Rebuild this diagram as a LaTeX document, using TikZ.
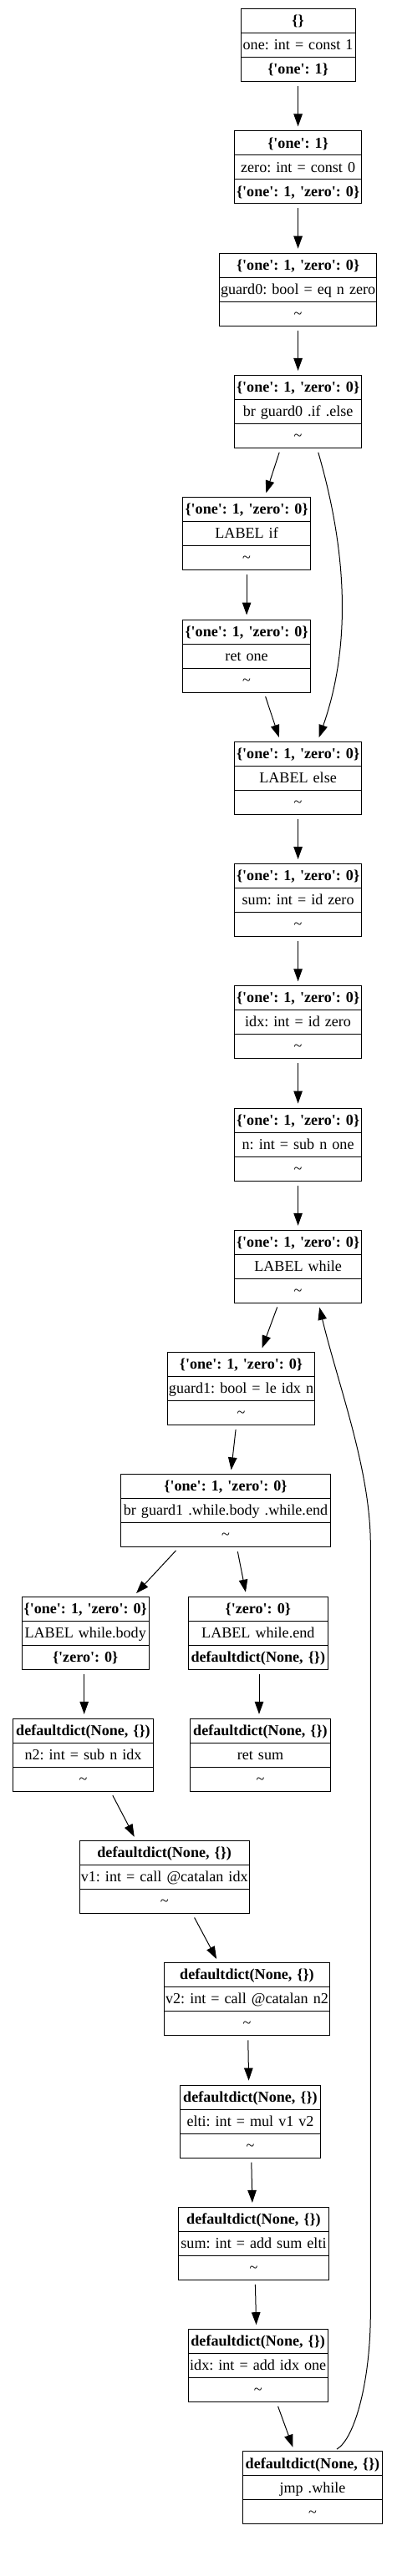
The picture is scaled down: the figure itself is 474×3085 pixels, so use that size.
\documentclass[tikz,border=0pt]{standalone}
\usepackage{fontspec}
\setmainfont{Liberation Serif}
\usetikzlibrary{shapes.multipart, positioning, arrows.meta}
\tikzset{node distance=59.26pt,
  block/.style={rectangle split, rectangle split parts=3, draw, line width=1pt, inner xsep=0pt, inner ysep=0pt, outer sep=0pt, align=center, font=\fontsize{18.1}{22}\selectfont\frenchspacing},
  flow/.style={-{Triangle[length=15pt,width=10.5pt]}, line width=1pt, shorten >=5.5pt, shorten <=5.5pt}}

\newcommand{\sq}{\textquotesingle}
\newcommand{\hrow}[1]{\mbox{\rule[-8.4pt]{0pt}{28pt}\textbf{#1}}}
\newcommand{\irow}[1]{\mbox{\rule[-8.4pt]{0pt}{28pt}#1}}
\newcommand{\dzero}{\{\sq one\sq: 1, \sq zero\sq: 0\}}
\newcommand{\ddict}{defaultdict(None, \{\})}
\newcommand{\nochg}{\irow{\textasciitilde}}

\begin{document}
\begin{tikzpicture}[x=1pt, y=-1pt]
        \useasboundingbox (0,0) rectangle (474,3085);

        % entry and the if/else branch
        \node[block, text width=137pt, anchor=north] (n0) at (356.6,10.7) {\hrow{\{\}} \nodepart{two} \irow{one: int = const 1} \nodepart{three} \hrow{\{\sq one\sq: 1\}}};
        \node[block, text width=152pt, below=of n0] (n1) {\hrow{\{\sq one\sq: 1\}} \nodepart{two} \irow{zero: int = const 0} \nodepart{three} \hrow{\dzero}};
        \node[block, text width=188.3pt, below=of n1] (n2) {\hrow{\dzero} \nodepart{two} \irow{guard0: bool = eq n zero} \nodepart{three} \nochg};
        \node[block, text width=152pt, below=of n2] (n3) {\hrow{\dzero} \nodepart{two} \irow{br guard0 .if .else} \nodepart{three} \nochg};
        \node[block, text width=152.3pt, below=of n3, xshift=-61.5pt] (n4) {\hrow{\dzero} \nodepart{two} \irow{LABEL if} \nodepart{three} \nochg};
        \node[block, text width=152.3pt, below=of n4] (n5) {\hrow{\dzero} \nodepart{two} \irow{ret one} \nodepart{three} \nochg};
        \node[block, text width=152pt, below=of n5, xshift=61.5pt] (n6) {\hrow{\dzero} \nodepart{two} \irow{LABEL else} \nodepart{three} \nochg};
        \node[block, text width=152pt, below=of n6] (n7) {\hrow{\dzero} \nodepart{two} \irow{sum: int = id zero} \nodepart{three} \nochg};
        \node[block, text width=152pt, below=of n7] (n8) {\hrow{\dzero} \nodepart{two} \irow{idx: int = id zero} \nodepart{three} \nochg};
        \node[block, text width=152pt, below=of n8] (n9) {\hrow{\dzero} \nodepart{two} \irow{n: int = sub n one} \nodepart{three} \nochg};

        % loop
        \node[block, text width=152pt, below=of n9] (n10) {\hrow{\dzero} \nodepart{two} \irow{LABEL while} \nodepart{three} \nochg};
        \node[block, text width=176.4pt, below=of n10, xshift=-68.1pt] (n11) {\hrow{\dzero} \nodepart{two} \irow{guard1: bool = le idx n} \nodepart{three} \nochg};
        \node[block, text width=250.6pt, below=of n11, xshift=-18.5pt] (n12) {\hrow{\dzero} \nodepart{two} \irow{br guard1 .while.body .while.end} \nodepart{three} \nochg};
        \node[block, text width=152.3pt, below=of n12, xshift=-167.8pt] (n13) {\hrow{\dzero} \nodepart{two} \irow{LABEL while.body} \nodepart{three} \hrow{\{\sq zero\sq: 0\}}};
        \node[block, text width=167pt, below=of n12, xshift=38.8pt] (n14) {\hrow{\{\sq zero\sq: 0\}} \nodepart{two} \irow{LABEL while.end} \nodepart{three} \hrow{\ddict}};
        \node[block, text width=167.6pt, below=of n13, xshift=-2.7pt] (n15) {\hrow{\ddict} \nodepart{two} \irow{n2: int = sub n idx} \nodepart{three} \nochg};
        \node[block, text width=167.6pt, below=of n14, xshift=2.7pt] (n16) {\hrow{\ddict} \nodepart{two} \irow{ret sum} \nodepart{three} \nochg};
        \node[block, text width=203.3pt, below=of n15, xshift=97.2pt] (n17) {\hrow{\ddict} \nodepart{two} \irow{v1: int = call @catalan idx} \nodepart{three} \nochg};
        \node[block, text width=198.4pt, below=of n17, xshift=98.8pt] (n18) {\hrow{\ddict} \nodepart{two} \irow{v2: int = call @catalan n2} \nodepart{three} \nochg};
        \node[block, text width=167.6pt, below=of n18, xshift=4pt] (n19) {\hrow{\ddict} \nodepart{two} \irow{elti: int = mul v1 v2} \nodepart{three} \nochg};
        \node[block, text width=179.6pt, below=of n19, xshift=4pt] (n20) {\hrow{\ddict} \nodepart{two} \irow{sum: int = add sum elti} \nodepart{three} \nochg};
        \node[block, text width=167.3pt, below=of n20, xshift=5.2pt] (n21) {\hrow{\ddict} \nodepart{two} \irow{idx: int = add idx one} \nodepart{three} \nochg};
        \node[block, text width=167.4pt, below=of n21, xshift=65.3pt] (n22) {\hrow{\ddict} \nodepart{two} \irow{jmp .while} \nodepart{three} \nochg};

        \draw[flow] (n0) -- (n1);
        \draw[flow] (n1) -- (n2);
        \draw[flow] (n2) -- (n3);
        \draw[flow] ([xshift=-20.7pt]n3.south) -- ([xshift=21.5pt]n4.north);
        \draw[flow] ([xshift=22.6pt]n3.south) .. controls (418,670) and (418,780) .. ([xshift=23.3pt]n6.north);
        \draw[flow] (n4) -- (n5);
        \draw[flow] ([xshift=20.8pt]n5.south) -- ([xshift=-21pt]n6.north);
        \draw[flow] (n6) -- (n7);
        \draw[flow] (n7) -- (n8);
        \draw[flow] (n8) -- (n9);
        \draw[flow] (n9) -- (n10);
        \draw[flow] ([xshift=-23pt]n10.south) -- ([xshift=23.2pt]n11.north);
        \draw[flow] ([xshift=-5.8pt]n11.south) -- ([xshift=6pt]n12.north);
        \draw[flow] ([xshift=-55.7pt]n12.south) -- ([xshift=57.1pt]n13.north);
        \draw[flow] ([xshift=13.3pt]n12.south) -- ([xshift=-13.8pt]n14.north);
        \draw[flow] ([xshift=-1.5pt]n13.south) -- ([xshift=1.2pt]n15.north);
        \draw[flow] ([xshift=1.2pt]n14.south) -- ([xshift=-1.5pt]n16.north);
        \draw[flow] ([xshift=32.8pt]n15.south) -- ([xshift=-33.4pt]n17.north);
        \draw[flow] ([xshift=33.3pt]n17.south) -- ([xshift=-33.8pt]n18.north);
        \draw[flow] ([xshift=1.2pt]n18.south) -- ([xshift=-1.8pt]n19.north);
        \draw[flow] ([xshift=1.2pt]n19.south) -- ([xshift=-1.5pt]n20.north);
        \draw[flow] ([xshift=1.8pt]n20.south) -- ([xshift=-2pt]n21.north);
        \draw[flow] ([xshift=22pt]n21.south) -- ([xshift=-21.7pt]n22.north);
        % back edge of the loop
        \draw[flow] ([xshift=24.3pt]n22.north) .. controls (425,2920) and (443.3,2850) .. (443.3,2770) -- (443.3,1850) .. controls (443.3,1760) and (405,1660) .. ([xshift=24.3pt]n10.south);
\end{tikzpicture}
\end{document}
